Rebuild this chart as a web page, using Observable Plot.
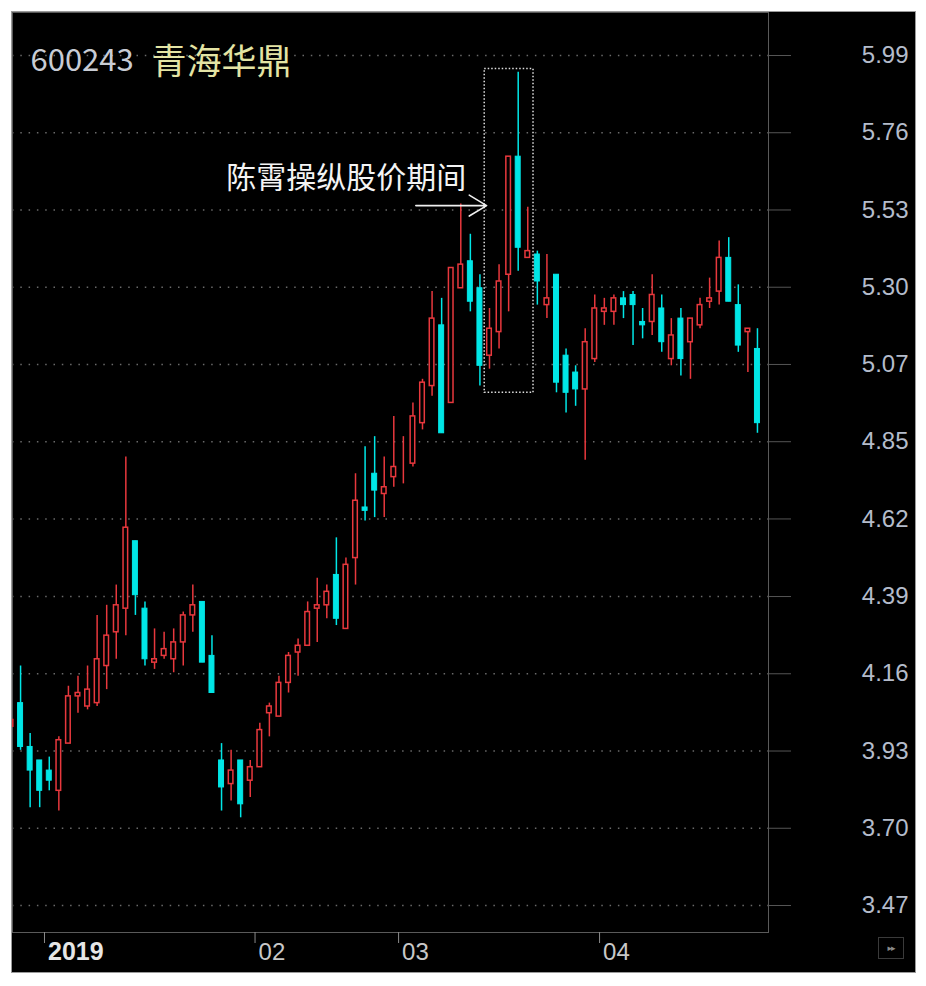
<!DOCTYPE html>
<html><head><meta charset="utf-8">
<script src="https://cdn.jsdelivr.net/npm/d3@7"></script>
<script src="https://cdn.jsdelivr.net/npm/@observablehq/plot@0.6"></script>
<style>
html,body{margin:0;padding:0;background:#fff;}
#panel{position:absolute;left:12px;top:12px;width:903px;height:960px;background:#000;overflow:hidden;box-shadow:0 0 0 1px #9a9a9a;}
#panel svg{position:absolute;left:0;top:0;}
#btn{position:absolute;left:866px;top:925px;width:26px;height:22px;border:1px solid #3a3a3a;color:#8a8a8a;font:9px "DejaVu Sans";display:flex;align-items:center;justify-content:center;letter-spacing:-1px;box-sizing:border-box;}
</style></head><body>
<div id="panel"><div id="btn">▸▸</div></div>
<script>
// ---- data ----
const dates = [
  "2018-12-25","2018-12-26","2018-12-27","2018-12-28",
  "2019-01-02","2019-01-03","2019-01-04","2019-01-07","2019-01-08","2019-01-09","2019-01-10","2019-01-11",
  "2019-01-14","2019-01-15","2019-01-16","2019-01-17","2019-01-18","2019-01-21","2019-01-22","2019-01-23",
  "2019-01-24","2019-01-25","2019-01-28","2019-01-29","2019-01-30","2019-01-31",
  "2019-02-01","2019-02-11","2019-02-12","2019-02-13","2019-02-14","2019-02-15","2019-02-18","2019-02-19",
  "2019-02-20","2019-02-21","2019-02-22","2019-02-25","2019-02-26","2019-02-27","2019-02-28",
  "2019-03-01","2019-03-04","2019-03-05","2019-03-06","2019-03-07","2019-03-08","2019-03-11","2019-03-12",
  "2019-03-13","2019-03-14","2019-03-15","2019-03-18","2019-03-19","2019-03-20","2019-03-21","2019-03-22",
  "2019-03-25","2019-03-26","2019-03-27","2019-03-28","2019-03-29",
  "2019-04-01","2019-04-02","2019-04-03","2019-04-04","2019-04-08","2019-04-09","2019-04-10","2019-04-11",
  "2019-04-12","2019-04-15","2019-04-16","2019-04-17","2019-04-18","2019-04-19","2019-04-22","2019-04-23","2019-04-24"
];
const open = [
  4.00,4.07,3.94,3.90,
  3.87,3.81,3.95,4.09,4.06,4.07,4.18,4.28,
  4.35,4.55,4.35,4.19,4.21,4.20,4.25,4.33,
  4.37,4.21,3.90,3.83,3.90,3.84,
  3.88,4.04,4.03,4.13,4.22,4.24,4.35,4.36,
  4.45,4.29,4.50,4.65,4.75,4.69,4.74,
  4.80,4.78,4.90,5.01,5.19,4.96,5.30,5.38,
  5.30,5.10,5.17,5.34,5.69,5.39,5.40,5.25,
  5.34,5.10,5.05,5.00,5.09,
  5.23,5.23,5.27,5.28,5.20,5.20,5.24,5.09,
  5.21,5.14,5.19,5.26,5.29,5.39,5.25,5.17,5.12
];
const high = [
  4.03,4.18,3.98,3.90,
  3.91,3.97,4.12,4.15,4.18,4.33,4.36,4.42,
  4.80,4.55,4.37,4.29,4.28,4.29,4.34,4.42,
  4.37,4.27,3.95,3.93,3.90,3.90,
  4.01,4.07,4.15,4.22,4.26,4.37,4.44,4.42,
  4.56,4.50,4.75,4.83,4.86,4.80,4.92,
  4.86,4.96,5.03,5.29,5.27,5.36,5.55,5.46,
  5.34,5.24,5.37,5.69,5.94,5.54,5.41,5.40,
  5.34,5.12,5.07,5.18,5.28,
  5.27,5.28,5.29,5.29,5.24,5.34,5.28,5.21,
  5.24,5.21,5.27,5.33,5.44,5.45,5.31,5.18,5.18
];
const low = [
  3.99,3.93,3.76,3.76,
  3.81,3.75,3.95,4.04,4.05,4.06,4.11,4.20,
  4.27,4.33,4.18,4.17,4.20,4.16,4.18,4.28,
  4.19,4.10,3.75,3.78,3.73,3.79,
  3.88,3.97,4.03,4.10,4.15,4.24,4.25,4.32,
  4.30,4.29,4.42,4.61,4.62,4.62,4.71,
  4.72,4.77,4.88,4.98,4.87,4.96,5.30,5.23,
  5.01,5.06,5.12,5.23,5.35,5.39,5.25,5.21,
  4.99,4.93,4.95,4.79,5.08,
  5.19,5.19,5.21,5.13,5.15,5.16,5.11,5.07,
  5.04,5.03,5.18,5.24,5.25,5.26,5.11,5.05,4.87
];
const close = [
  4.02,3.94,3.87,3.81,
  3.84,3.96,4.09,4.10,4.11,4.20,4.27,4.36,
  4.59,4.39,4.20,4.20,4.23,4.25,4.33,4.36,
  4.19,4.10,3.82,3.87,3.77,3.88,
  3.99,4.06,4.13,4.21,4.24,4.34,4.36,4.40,
  4.32,4.48,4.67,4.64,4.70,4.71,4.77,
  4.80,4.92,5.02,5.21,4.87,5.36,5.37,5.26,
  5.07,5.18,5.32,5.69,5.42,5.41,5.32,5.27,
  5.02,4.99,5.00,5.14,5.24,
  5.24,5.27,5.25,5.25,5.19,5.28,5.14,5.16,
  5.09,5.21,5.25,5.27,5.39,5.26,5.13,5.18,4.90
];
// y axis ticks and their printed labels
const yTicks  = [3.47,3.699,3.928,4.157,4.386,4.616,4.845,5.074,5.303,5.532,5.761,5.99];
const yLabels = ["3.47","3.70","3.93","4.16","4.39","4.62","4.85","5.07","5.30","5.53","5.76","5.99"];
// x axis month markers
const monthStarts = ["2019-01-02","2019-02-01","2019-03-01","2019-04-01"];
const monthLabels = ["2019","02","03","04"];
// title & annotation
const titleCode = "600243";
const titleName = "青海华鼎";
const noteText = "陈霄操纵股价期间";
const noteAt = {i: 22.5, price: 5.625};
const arrowFrom = {i: 42.3, price: 5.545};
const arrowTo = {i: 49.7, price: 5.545};
const boxRange = {i1: 49.5, i2: 54.6, p1: 4.99, p2: 5.95};

// ---- build ----
const RED = "#e8383d", CYAN = "#00e6e6";
const candles = dates.map((d, i) => ({i, date: d, open: open[i], high: high[i], low: low[i], close: close[i]}));
const up = candles.filter(d => d.close >= d.open);
const down = candles.filter(d => d.close < d.open);
const months = monthStarts.map((d, k) => ({x: dates.indexOf(d) - 0.5, label: monthLabels[k]}));

const chart = Plot.plot({
  width: 903, height: 960,
  marginLeft: 0, marginRight: 147, marginTop: 0, marginBottom: 40,
  style: {background: "transparent", overflow: "visible"},
  x: {domain: [0.157, 79.154], axis: null},
  y: {domain: [3.47, 5.99], range: [893, 43], axis: null},
  marks: [
    Plot.gridY(yTicks, {stroke: "#6a6a6a", strokeOpacity: 1, strokeWidth: 1.5, strokeDasharray: "1.5,6.8"}),
    Plot.frame({stroke: "#5a5a5a"}),
    Plot.axisY(yTicks, {anchor: "right", tickSize: 22, stroke: "#555", tickFormat: () => ""}),
    Plot.axisY(yTicks, {anchor: "right", tickSize: 0, tickPadding: 140, textAnchor: "end",
      tickFormat: d => yLabels[yTicks.indexOf(d)], fontSize: 24, fontFamily: "Liberation Sans", fill: "#b4bccb"}),
    Plot.axisX(months.map(d => d.x), {anchor: "bottom", tickSize: 11, stroke: "#8a8a8a", tickFormat: () => ""}),
    Plot.text(months.filter(d => d.label === "2019"), {x: "x", text: "label", frameAnchor: "bottom", dx: 3.5, dy: 27,
      textAnchor: "start", lineAnchor: "bottom", fontSize: 25, fontWeight: "bold", fontFamily: "Liberation Sans", fill: "#e6e6e6"}),
    Plot.text(months.filter(d => d.label !== "2019"), {x: "x", text: "label", frameAnchor: "bottom", dx: 3.5, dy: 27,
      textAnchor: "start", lineAnchor: "bottom", fontSize: 24, fontFamily: "Liberation Sans", fill: "#c8c8c8"}),
    // candles
    Plot.ruleX(up, {x: "i", y1: "low", y2: "high", stroke: RED, strokeWidth: 1.5, clip: true}),
    Plot.ruleX(down, {x: "i", y1: "low", y2: "high", stroke: CYAN, strokeWidth: 1.5, clip: true}),
    Plot.rect(up, {x1: d => d.i - 0.24, x2: d => d.i + 0.24, y1: "open", y2: "close",
      fill: "#000", stroke: RED, strokeWidth: 1.5, clip: true}),
    Plot.rect(down, {x1: d => d.i - 0.26, x2: d => d.i + 0.26, y1: "open", y2: "close",
      fill: CYAN, stroke: CYAN, strokeWidth: 1, clip: true}),
    // annotation
    Plot.rect([boxRange], {x1: "i1", x2: "i2", y1: "p1", y2: "p2", fill: "none", stroke: "#e0e0e0",
      strokeWidth: 1.5, strokeDasharray: "1.5,2"}),
    Plot.arrow([{a: arrowFrom, b: arrowTo}], {x1: d => d.a.i, y1: d => d.a.price, x2: d => d.b.i, y2: d => d.b.price,
      stroke: "#f0f0f0", strokeWidth: 1.6, headLength: 19, headAngle: 62, insetStart: 0, insetEnd: 0}),
    Plot.text([noteText], {x: () => noteAt.i, y: () => noteAt.price, text: d => d, textAnchor: "start", lineAnchor: "middle",
      fontSize: 30, fontFamily: "Noto Sans CJK SC", fill: "#f4f4f4"}),
    // title
    Plot.text([titleCode], {frameAnchor: "top-left", text: d => d, dx: 18, dy: 58, textAnchor: "start", lineAnchor: "bottom",
      fontSize: 31, fontFamily: "Noto Sans CJK SC", fill: "#c8ccd4"}),
    Plot.text([titleName], {frameAnchor: "top-left", text: d => d, dx: 139, dy: 61, textAnchor: "start", lineAnchor: "bottom",
      fontSize: 35, fontFamily: "Noto Sans CJK SC", fill: "#e4e4a4"})
  ]
});
document.getElementById("panel").prepend(chart);
</script>
</body></html>
